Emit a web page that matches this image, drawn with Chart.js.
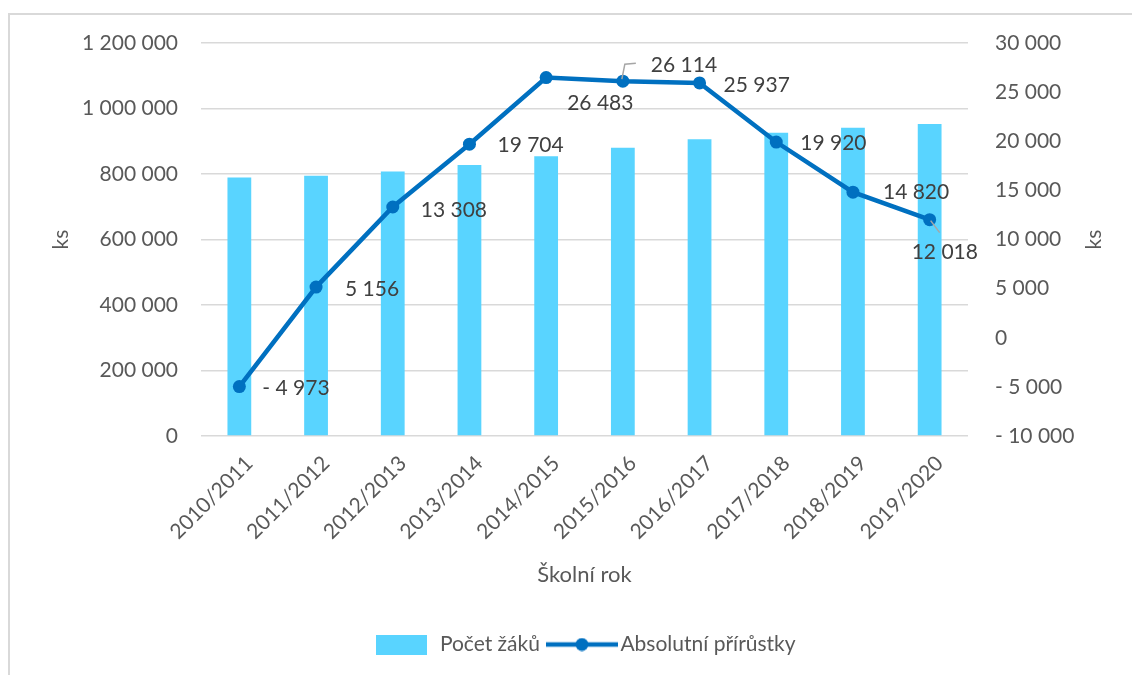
<!DOCTYPE html>
<html>
<head>
<meta charset="utf-8">
<script src="https://cdn.jsdelivr.net/npm/chart.js@4/dist/chart.umd.min.js"></script>
<style>
html, body { margin: 0; padding: 0; background: #fff; }
#wrap { position: relative; width: 1132px; height: 675px; }
</style>
</head>
<body>
<div id="wrap"><canvas id="myChart" width="1132" height="675"></canvas></div>
<script>
// school years
const labels = ['2010/2011', '2011/2012', '2012/2013', '2013/2014', '2014/2015',
                '2015/2016', '2016/2017', '2017/2018', '2018/2019', '2019/2020'];
// Počet žáků (left axis)
const pupils = [789486, 794642, 807950, 827654, 854137, 880251, 906188, 926108, 940928, 952946];
// Absolutní přírůstky (right axis)
const increments = [-4973, 5156, 13308, 19704, 26483, 26114, 25937, 19920, 14820, 12018];

const barColor = '#59D4FF';
const lineColor = '#0070C0';
const tickColor = '#595959';

Chart.defaults.font.family = 'Lato';
Chart.defaults.font.size = 21;
Chart.defaults.color = tickColor;

function fmt(v) {
  const s = Math.abs(v).toString().replace(/\B(?=(\d{3})+(?!\d))/g, ' ');
  return v < 0 ? '- ' + s : s;
}

// legend icons
function barIcon() {
  const c = document.createElement('canvas');
  c.width = 51; c.height = 20;
  const g = c.getContext('2d');
  g.fillStyle = barColor;
  g.fillRect(0, 0, 51, 20);
  return c;
}
function lineIcon() {
  const c = document.createElement('canvas');
  c.width = 72; c.height = 14;
  const g = c.getContext('2d');
  g.strokeStyle = lineColor;
  g.lineWidth = 4.5;
  g.beginPath(); g.moveTo(0, 7); g.lineTo(72, 7); g.stroke();
  g.fillStyle = lineColor;
  g.beginPath(); g.arc(36, 7, 6.5, 0, Math.PI * 2); g.fill();
  return c;
}
const icons = [barIcon(), lineIcon()];

// label placement for the line points (dx, dy from point), plus leader lines
const labelPlace = {
  offsets: [[23, 2], [29, 2], [28, 3], [28, 1], [21, 26], [28, -16], [24, 2], [24, 1], [30, 0], [-18, 33]],
  leaders: {
    5: [[-1, -2], [2, -17], [13, -18]],
    9: [[1, 1], [10, 13]]
  }
};

const lineLabels = {
  id: 'lineLabels',
  afterDatasetsDraw(chart) {
    const ctx = chart.ctx;
    const meta = chart.getDatasetMeta(1);
    ctx.save();
    ctx.strokeStyle = '#A6A6A6';
    ctx.lineWidth = 1.5;
    Object.keys(labelPlace.leaders).forEach(k => {
      const p = meta.data[k];
      const pts = labelPlace.leaders[k];
      ctx.beginPath();
      pts.forEach((o, i) => {
        if (i === 0) ctx.moveTo(p.x + o[0], p.y + o[1]);
        else ctx.lineTo(p.x + o[0], p.y + o[1]);
      });
      ctx.stroke();
    });
    ctx.font = '21px Lato';
    ctx.fillStyle = '#404040';
    ctx.textAlign = 'left';
    ctx.textBaseline = 'middle';
    meta.data.forEach((p, i) => {
      const o = labelPlace.offsets[i];
      ctx.fillText(fmt(increments[i]), p.x + o[0], p.y + o[1]);
    });
    ctx.restore();
  },
  afterDraw(chart) {
    const ctx = chart.ctx;
    const a = chart.chartArea;
    ctx.save();
    // right axis title
    ctx.translate(1094, (a.top + a.bottom) / 2);
    ctx.rotate(-Math.PI / 2);
    ctx.font = '21px Lato';
    ctx.fillStyle = tickColor;
    ctx.textAlign = 'center';
    ctx.textBaseline = 'middle';
    ctx.fillText('ks', 0, 0);
    ctx.restore();
  },
  beforeDraw(chart) {
    const ctx = chart.ctx;
    ctx.save();
    ctx.strokeStyle = '#d9d9d9';
    ctx.lineWidth = 2;
    ctx.strokeRect(9, 14, 1200, 800);
    ctx.restore();
  }
};

const data = {
  labels: labels,
  datasets: [{
    type: 'bar',
    label: 'Počet žáků',
    data: pupils,
    backgroundColor: barColor,
    yAxisID: 'y',
    order: 1,
    categoryPercentage: 1,
    barPercentage: 0.31
  }, {
    type: 'line',
    label: 'Absolutní přírůstky',
    data: increments,
    borderColor: lineColor,
    backgroundColor: lineColor,
    borderWidth: 4.5,
    pointRadius: 6.5,
    pointBorderWidth: 0,
    pointBackgroundColor: lineColor,
    yAxisID: 'y1',
    order: 0,
    tension: 0
  }]
};

const config = {
  type: 'bar',
  data: data,
  plugins: [lineLabels],
  options: {
    responsive: false,
    animation: false,
    layout: { padding: { top: 43, bottom: 10, left: 0, right: 0 } },
    plugins: {
      tooltip: { enabled: false },
      legend: {
        position: 'bottom',
        fullSize: false,
        labels: {
          usePointStyle: true,
          pointStyleWidth: 56,
          padding: 14,
          color: tickColor,
          font: { size: 21 },
          generateLabels(chart) {
            const items = Chart.defaults.plugins.legend.labels.generateLabels(chart);
            items.forEach(it => { it.pointStyle = icons[it.datasetIndex]; });
            return items.sort((a, b) => a.datasetIndex - b.datasetIndex);
          }
        }
      }
    },
    scales: {
      x: {
        grid: { display: false },
        border: { display: false },
        ticks: { minRotation: 45, maxRotation: 45, padding: 7, labelOffset: 10, color: tickColor },
        title: { display: true, text: 'Školní rok', font: { size: 22 }, color: tickColor, padding: { top: 0, bottom: 32 } },
        afterFit(s) { s.height = 184; }
      },
      y: {
        position: 'left',
        min: 0,
        max: 1200000,
        ticks: { stepSize: 200000, padding: 23, callback: v => fmt(v), color: tickColor },
        grid: { color: '#d9d9d9', lineWidth: 1.5, drawTicks: false },
        border: { display: false },
        title: { display: true, text: 'ks', color: tickColor, padding: { top: 49, bottom: 0 } },
        afterFit(s) { s.width = 201; }
      },
      y1: {
        position: 'right',
        min: -10000,
        max: 30000,
        ticks: { stepSize: 5000, padding: 27, callback: v => fmt(v), color: tickColor },
        grid: { display: false, drawTicks: false },
        border: { display: false },
        afterFit(s) { s.width = 164; }
      }
    }
  }
};

const myChart = new Chart(document.getElementById('myChart'), config);
</script>
</body>
</html>
